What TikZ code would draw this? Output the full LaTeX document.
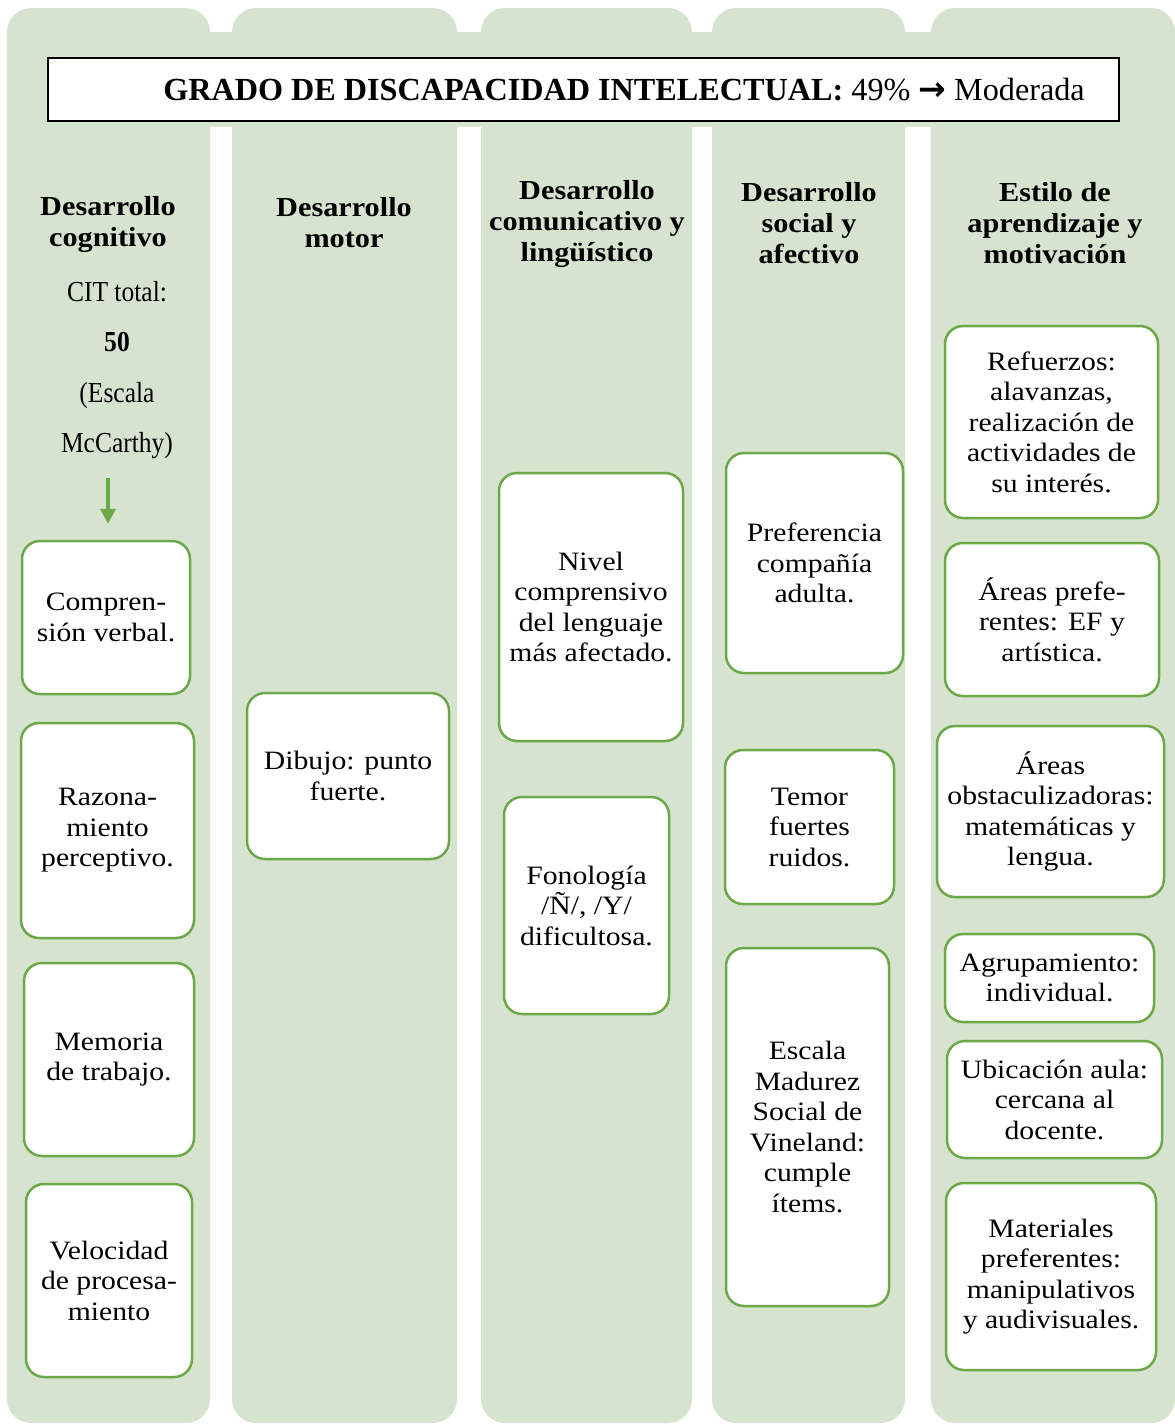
\documentclass[tikz,border=0pt]{standalone}
\usepackage{fontspec}
\setmainfont{Liberation Serif}
\newfontfamily\cardfont{Liberation Serif}[FakeStretch=1.12]
\newfontfamily\headfont{Liberation Serif}[FakeStretch=1.1]
\newfontfamily\citfont{Liberation Serif}[FakeStretch=0.88]
\newfontfamily\flechafont{DejaVu Sans}
\usetikzlibrary{arrows.meta}
\definecolor{colbg}{HTML}{D6E3CE}
\definecolor{cardgreen}{HTML}{6DA848}

\begin{document}
\begin{tikzpicture}[x=1pt,y=-1pt,
        col/.style={fill=colbg,rounded corners=24pt},
        card/.style={draw=cardgreen,line width=2.5pt,fill=white,rounded corners=18pt,
            align=center,inner sep=2pt,font=\cardfont\fontsize{26.5}{30.5}\selectfont},
        head/.style={align=center,font=\headfont\bfseries\fontsize{27.5}{31}\selectfont},
        flecha/.style={draw=cardgreen,line width=3.5pt,-{Triangle[width=15pt,length=15pt]}}]

    \useasboundingbox (0,0) rectangle (1175,1425);

    \foreach \xa/\xb in {7/210,232/457,481/692,712/905,931/1175}
        \fill[col] (\xa,8) rectangle (\xb,1423);
    \fill[colbg] (7,32) rectangle (1175,127);

    \node[draw,line width=1.3pt,fill=white,minimum width=1071pt,minimum height=63pt,
        inner sep=0pt,font=\fontsize{32.2}{36}\selectfont] (grado) at (583.5,89.5)
        {\hspace*{81pt}\textbf{GRADO DE DISCAPACIDAD INTELECTUAL:} 49\% {\flechafont\bfseries\fontsize{33}{36}\selectfont →} Moderada};

    \node[head] (hcog) at (108,224) {Desarrollo\\cognitivo};
    \node[head] (hmot) at (344,223) {Desarrollo\\motor};
    \node[head] (hcom) at (587,223.5) {Desarrollo\\comunicativo y\\lingüístico};
    \node[head] (hsoc) at (809,223) {Desarrollo\\social y\\afectivo};
    \node[head] (hest) at (1055,223) {Estilo de\\aprendizaje y\\motivación};

    \node[align=center,font=\citfont\fontsize{29}{50.5}\selectfont] (cit) at (117,370)
        {CIT total:\\\textbf{50}\\(Escala\\McCarthy)};

    \node[card,minimum width=168pt,minimum height=153pt] (cog1) at (106,617.5) {Compren-\\sión verbal.};
    \node[card,minimum width=173pt,minimum height=215pt] (cog2) at (107.5,830.5) {Razona-\\miento\\perceptivo.};
    \node[card,minimum width=170pt,minimum height=193pt] (cog3) at (109,1059.5) {Memoria\\de trabajo.};
    \node[card,minimum width=166pt,minimum height=193pt] (cog4) at (109,1280.5) {Velocidad\\de procesa-\\miento};

    \node[card,minimum width=202pt,minimum height=166pt] (mot1) at (348,776) {Dibujo: punto\\fuerte.};

    \node[card,minimum width=184pt,minimum height=268pt] (com1) at (591,607) {Nivel\\comprensivo\\del lenguaje\\más afectado.};
    \node[card,minimum width=165pt,minimum height=217pt] (com2) at (586.5,905.5) {Fonología\\/Ñ/, /Y/\\dificultosa.};

    \node[card,minimum width=177pt,minimum height=220pt] (soc1) at (814.5,563) {Preferencia\\compañía\\adulta.};
    \node[card,minimum width=169pt,minimum height=154pt] (soc2) at (809.5,827) {Temor\\fuertes\\ruidos.};
    \node[card,minimum width=163pt,minimum height=358pt] (soc3) at (807.5,1127) {Escala\\Madurez\\Social de\\Vineland:\\cumple\\ítems.};

    \node[card,minimum width=213pt,minimum height=192pt] (est1) at (1051.5,422) {Refuerzos:\\alavanzas,\\realización de\\actividades de\\su interés.};
    \node[card,minimum width=214pt,minimum height=153pt] (est2) at (1052,619.5) {Áreas prefe-\\rentes: EF y\\artística.};
    \node[card,minimum width=227pt,minimum height=171pt] (est3) at (1050.5,811.5) {Áreas\\obstaculizadoras:\\matemáticas y\\lengua.};
    \node[card,minimum width=209pt,minimum height=88pt] (est4) at (1049.5,978) {Agrupamiento:\\individual.};
    \node[card,minimum width=215pt,minimum height=117pt] (est5) at (1054.5,1099.5) {Ubicación aula:\\cercana al\\docente.};
    \node[card,minimum width=210pt,minimum height=187pt] (est6) at (1051,1276.5) {Materiales\\preferentes:\\manipulativos\\y audivisuales.};

    \coordinate (flini) at (108,478);
    \path[flecha,shorten >=16pt] (flini) -- (flini |- cog1.north);

    \end{tikzpicture}
\end{document}
